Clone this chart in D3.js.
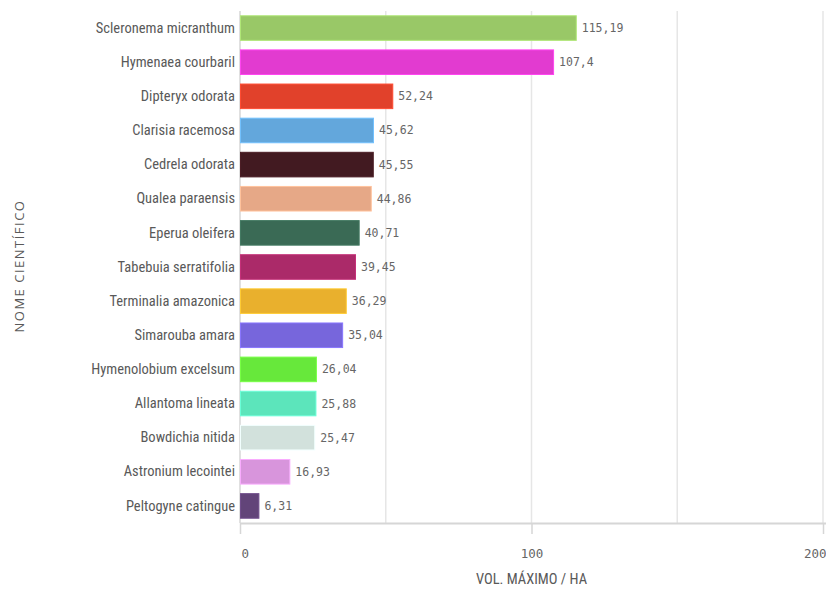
<!DOCTYPE html>
<html>
<head>
<meta charset="utf-8">
<script src="https://cdn.jsdelivr.net/npm/d3@7/dist/d3.min.js"></script>
<style>
  html, body { margin: 0; padding: 0; background: #fff; }
  svg { display: block; }
</style>
</head>
<body>
<svg id="chart" width="826" height="589"></svg>
<script>
const species = [
  "Scleronema micranthum", "Hymenaea courbaril", "Dipteryx odorata", "Clarisia racemosa",
  "Cedrela odorata", "Qualea paraensis", "Eperua oleifera", "Tabebuia serratifolia",
  "Terminalia amazonica", "Simarouba amara", "Hymenolobium excelsum", "Allantoma lineata",
  "Bowdichia nitida", "Astronium lecointei", "Peltogyne catingue"
];
const volumes = [115.19, 107.4, 52.24, 45.62, 45.55, 44.86, 40.71, 39.45, 36.29, 35.04, 26.04, 25.88, 25.47, 16.93, 6.31];
const barColors = [
  "#99c867", "#e23bd0", "#e1412b", "#63a7dc", "#421a21", "#e6a887", "#3a6a55", "#ab2a69",
  "#e9b02d", "#7766dc", "#67e83b", "#5ce5bb", "#d2e1dc", "#d895dc", "#624479"
];
const xTicks = [0, 100, 200];
const xGrid = [50, 100, 150, 200];
const xTitle = "VOL. MÁXIMO / HA";
const yTitle = "NOME CIENTÍFICO";

(function () {
const svg = d3.select("#chart");
const pLeft = 240, pRight = 823, pTop = 11, pBottom = 523;

const x = d3.scaleLinear().domain([0, 200]).range([pLeft, pRight]);
const y = d3.scaleBand().domain(species).range([pTop, pBottom]).paddingInner(0.28).paddingOuter(0.14);

const fmt = v => String(v).replace(".", ",");

// grid lines
svg.append("g").selectAll("line").data(xGrid).join("line")
  .attr("x1", d => x(d)).attr("x2", d => x(d))
  .attr("y1", pTop).attr("y2", pBottom)
  .attr("stroke", "#e6e6e6").attr("stroke-width", 1.5);

// left axis line
svg.append("line").attr("x1", pLeft).attr("x2", pLeft).attr("y1", pTop).attr("y2", pBottom)
  .attr("stroke", "#d6d6d6").attr("stroke-width", 1.5);

// bars
svg.append("g").selectAll("rect").data(species).join("rect")
  .attr("x", x(0) + 0.5)
  .attr("y", d => y(d))
  .attr("width", (d, i) => x(volumes[i]) - x(0))
  .attr("height", y.bandwidth())
  .attr("fill", (d, i) => barColors[i])
  .attr("stroke", (d, i) => d3.color(barColors[i]).brighter(0.4))
  .attr("stroke-width", 1);

// value labels
svg.append("g").selectAll("text").data(species).join("text")
  .attr("x", (d, i) => x(volumes[i]) + 6)
  .attr("y", d => y(d) + y.bandwidth() / 2)
  .attr("dy", "0.35em")
  .attr("font-family", "'DejaVu Sans Mono', 'Liberation Mono', monospace")
  .attr("font-size", 11.5)
  .attr("fill", "#666")
  .text((d, i) => fmt(volumes[i]));

// y axis (category labels)
const yAxis = d3.axisLeft(y).tickSize(0).tickPadding(4);
const gy = svg.append("g").attr("transform", `translate(${pLeft - 1},0)`).call(yAxis);
gy.select(".domain").remove();
gy.selectAll("text")
  .attr("font-family", "'Liberation Sans Narrow', 'Roboto Condensed', 'Roboto', sans-serif")
  .attr("font-size", 14.5)
  .attr("fill", "#595959");

// x axis
const xAxis = d3.axisBottom(x).tickValues(xTicks).tickSize(11).tickPadding(15).tickFormat(d3.format("d"));
const gx = svg.append("g").attr("transform", `translate(0,${pBottom})`).call(xAxis);
gx.select(".domain").attr("d", `M${pLeft},0.5H826`).attr("stroke", "#d6d6d6").attr("stroke-width", 2);
gx.selectAll(".tick line").attr("stroke", "#d6d6d6").attr("stroke-width", 1.5);
gx.selectAll(".tick text")
  .attr("font-family", "'DejaVu Sans Mono', 'Liberation Mono', monospace")
  .attr("font-size", 12.5)
  .attr("fill", "#666");
gx.selectAll(".tick").filter(d => d === 200).select("text").attr("text-anchor", "end").attr("x", 3);
gx.selectAll(".tick").filter(d => d === 0).select("text").attr("text-anchor", "start").attr("x", 1);

// axis titles
svg.append("text")
  .attr("x", x(100)).attr("y", 584)
  .attr("text-anchor", "middle")
  .attr("font-family", "'Liberation Sans Narrow', 'Roboto Condensed', 'Roboto', sans-serif")
  .attr("font-size", 14.5)
  .attr("fill", "#595959")
  .text(xTitle);

svg.append("text")
  .attr("transform", `translate(24,${(pTop + pBottom) / 2 - 1}) rotate(-90)`)
  .attr("text-anchor", "middle")
  .attr("font-family", "'Open Sans', 'DejaVu Sans', sans-serif")
  .attr("font-size", 13)
  .attr("letter-spacing", "1.5px")
  .attr("fill", "#595959")
  .text(yTitle);
})();
</script>
</body>
</html>
